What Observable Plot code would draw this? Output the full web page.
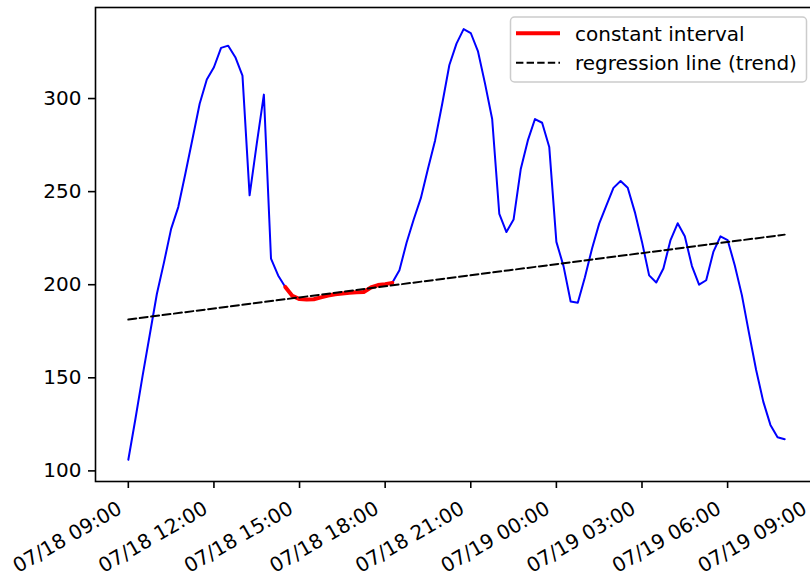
<!DOCTYPE html>
<html>
<head>
<meta charset="utf-8">
<script src="https://cdn.jsdelivr.net/npm/d3@7"></script>
<script src="https://cdn.jsdelivr.net/npm/@observablehq/plot@0.6"></script>
<style>
  html, body { margin: 0; padding: 0; background: #fff; overflow: hidden; }
  #wrap { position: relative; width: 810px; height: 577px; overflow: hidden; background: #fff; }
  #wrap svg { max-width: none !important; height: auto; display: block; }
  #legend { position: absolute; left: 0; top: 0; }
  text { font-family: "DejaVu Sans", sans-serif; }
</style>
</head>
<body>
<div id="wrap"></div>
<script>
// ---- data (15-minute samples starting 07/18 09:00) ----
const startTime = "2021-07-18T09:00:00Z";
const stepMinutes = 15;
const values = [
  106, 128, 151, 173, 195, 212, 230, 241.7, 259.7, 278.4,
  297.2, 310.2, 316.8, 327.2, 328.4, 322.2, 312.3, 248, 275.7, 302.1,
  214, 205, 198.8, 194, 192.3, 192, 192.2, 193.2, 194.2, 194.9,
  195.3, 195.7, 195.9, 196.1, 198.5, 199.8, 200.3, 201, 207.8, 222.5,
  235, 246.5, 262.3, 277.5, 297.2, 318, 329.5, 337.3, 335.2, 325.5,
  308, 289, 238, 228.3, 235, 262, 277.5, 289, 287, 274,
  223, 210, 191, 190.3, 204, 219.5, 232.8, 242.5, 252, 255.7,
  252.1, 239, 223, 205, 201.2, 208.7, 224, 233, 226, 210,
  200, 202.4, 217.6, 226, 224, 210.5, 194.4, 174, 154.2, 137.2,
  124.7, 118.1, 117
];
// constant interval: sample indices (inclusive)
const constantInterval = [22, 37];
// regression line end points
const regressionTimes = ["2021-07-18T09:00:00Z", "2021-07-19T08:00:00Z"];
const regressionValues = [181.3, 226.9];

const xDomain = ["2021-07-18T07:51:00Z", "2021-07-19T09:09:00Z"];
const yDomain = [94.3, 348.9];
const yTicks = [100, 150, 200, 250, 300];
const xTickTimes = [
  "2021-07-18T09:00:00Z", "2021-07-18T12:00:00Z", "2021-07-18T15:00:00Z",
  "2021-07-18T18:00:00Z", "2021-07-18T21:00:00Z", "2021-07-19T00:00:00Z",
  "2021-07-19T03:00:00Z", "2021-07-19T06:00:00Z", "2021-07-19T09:00:00Z"
];
const xTickLabels = [
  "07/18 09:00", "07/18 12:00", "07/18 15:00", "07/18 18:00", "07/18 21:00",
  "07/19 00:00", "07/19 03:00", "07/19 06:00", "07/19 09:00"
];
const legendLabels = ["constant interval", "regression line (trend)"];

// ---- build tables ----
const t0 = new Date(startTime).getTime();
const series = values.map((v, i) => ({t: new Date(t0 + i * stepMinutes * 60000), v}));
const constantSeries = series.slice(constantInterval[0], constantInterval[1] + 1);
const regression = regressionTimes.map((s, i) => ({t: new Date(s), v: regressionValues[i]}));
const ticks = xTickTimes.map((s, i) => ({t: new Date(s), label: xTickLabels[i]}));

const chart = Plot.plot({
  width: 817,
  height: 577,
  marginLeft: 95,
  marginRight: 0,
  marginTop: 7,
  marginBottom: 96,
  style: {fontFamily: "DejaVu Sans", fontSize: "20px", color: "black", background: "white", maxWidth: "none"},
  x: {type: "utc", domain: xDomain.map(s => new Date(s))},
  y: {domain: yDomain},
  marks: [
    Plot.axisY({ticks: yTicks, tickSize: 7, tickPadding: 7, label: null, fontSize: 20, strokeWidth: 1.6, fill: "black"}),
    Plot.axisX({ticks: ticks.map(d => d.t), tickSize: 7, tickFormat: () => "", label: null, strokeWidth: 1.6}),
    Plot.text(ticks, {x: "t", text: "label", frameAnchor: "bottom", rotate: -30, textAnchor: "end",
      lineAnchor: "bottom", dx: -5, dy: 31, fontSize: 20, fill: "black"}),
    Plot.line(series, {x: "t", y: "v", stroke: "blue", strokeWidth: 2}),
    Plot.line(constantSeries, {x: "t", y: "v", stroke: "red", strokeWidth: 4}),
    Plot.line(regression, {x: "t", y: "v", stroke: "black", strokeWidth: 2, strokeDasharray: "8,3.5"}),
    Plot.frame({stroke: "black", strokeWidth: 1.6})
  ]
});
document.getElementById("wrap").appendChild(chart);

// ---- legend (inside the axes, upper right) ----
const ns = "http://www.w3.org/2000/svg";
const lg = document.createElementNS(ns, "svg");
lg.setAttribute("id", "legend");
lg.setAttribute("width", 810);
lg.setAttribute("height", 100);
lg.innerHTML = `
  <rect x="510.5" y="17" width="296" height="65" rx="4" ry="4" fill="white" fill-opacity="0.8" stroke="#cccccc" stroke-width="1.5"/>
  <line x1="516" x2="560" y1="33.3" y2="33.3" stroke="red" stroke-width="4"/>
  <line x1="516" x2="560" y1="62.7" y2="62.7" stroke="black" stroke-width="2" stroke-dasharray="7.4,3.2"/>
  <text x="575" y="41" font-size="20" fill="black">${legendLabels[0]}</text>
  <text x="575" y="69.5" font-size="20" fill="black">${legendLabels[1]}</text>
`;
document.getElementById("wrap").appendChild(lg);
</script>
</body>
</html>
